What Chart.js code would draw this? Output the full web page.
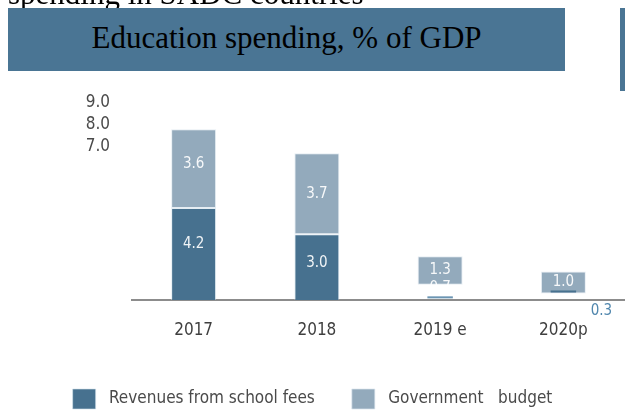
<!DOCTYPE html>
<html>
<head>
<meta charset="utf-8">
<script src="https://cdn.jsdelivr.net/npm/chart.js@4/dist/chart.umd.min.js"></script>
<style>
  html, body { margin: 0; padding: 0; background: #fff; overflow: hidden; }
  #wrap { position: relative; width: 625px; height: 410px; }
  #graph { position: absolute; left: 0; top: 0; }
  #caption {
    position: absolute; left: 8px; top: -22px;
    font: 31px/31px "Liberation Serif", "Times New Roman", serif; color: #000;
    white-space: nowrap;
  }
  #banner {
    position: absolute; left: 8px; top: 8px; width: 557px; height: 49px;
    padding-top: 14px;
    background: #4a7594; color: #000;
    font: 31px/31px "Liberation Serif", "Times New Roman", serif;
    text-align: center; white-space: nowrap;
  }
  #sidebar {
    position: absolute; left: 620px; top: 8px; width: 5px; height: 83px;
    background: #4a7594;
  }
</style>
</head>
<body>
<div id="wrap">
  <canvas id="graph" width="625" height="410"></canvas>
  <div id="caption">spending in SADC countries</div>
  <div id="banner">Education spending, % of GDP</div>
  <div id="sidebar"></div>
</div>
<script>
// Werte
const categories = ["2017", "2018", "2019 e", "2020p"];
const schoolFees = [4.2, 3.0, 0.7, 0.3];
const govBudget = [3.6, 3.7, 1.3, 1.0];
const yTicks = [7, 8, 9];

const darkBlue = "#47718f";
const lightBlue = "#93aabc";
const narrow = '"DejaVu Sans Condensed", "Liberation Sans Narrow", sans-serif';

// Beschriftung in den Balken, einzelne Labels verschoben
const labelStyle = {
  "0-0": { dy: -10 },
  "0-1": { dy: -4 },
  "1-0": { dy: -5 },
  "0-2": { dy: -4, underline: "#6b95b3" },
  "0-3": { dx: 38, dy: 11, color: "#4f86ad", outside: true },
  "1-3": { underline: darkBlue },
};

const barLabels = {
  id: "barLabels",
  afterDatasetsDraw(chart) {
    const ctx = chart.ctx;
    ctx.save();
    ctx.font = "15px " + narrow;
    ctx.textAlign = "center";
    ctx.textBaseline = "middle";
    chart.data.datasets.forEach((ds, di) => {
      chart.getDatasetMeta(di).data.forEach((bar, i) => {
        const st = labelStyle[di + "-" + i] || {};
        const text = ds.data[i].toFixed(1);
        const x = bar.x + (st.dx || 0);
        let y = (bar.y + bar.base) / 2 + (st.dy || 0);
        if (st.outside) y = bar.base + (st.dy || 0);
        ctx.fillStyle = st.color || "rgba(255,255,255,0.92)";
        ctx.fillText(text, x, y);
        if (st.underline) {
          const w = ctx.measureText(text).width;
          ctx.fillStyle = st.underline;
          ctx.fillRect(x - w / 2 - 2, y + 8, w + 4, 2);
        }
      });
    });
    ctx.restore();
  },
};

new Chart(document.getElementById("graph").getContext("2d"), {
  type: "bar",
  data: {
    labels: categories,
    datasets: [
      {
        label: " Revenues from school fees",
        data: schoolFees,
        // 2019/2020: Gebührenanteil nicht als Fläche
        backgroundColor: [darkBlue, darkBlue, "rgba(0,0,0,0)", "rgba(0,0,0,0)"],
        borderColor: ["rgba(210,225,235,0.6)", "rgba(210,225,235,0.6)", "rgba(0,0,0,0)", "rgba(0,0,0,0)"],
        borderWidth: 1,
        borderSkipped: "bottom",
      },
      {
        label: " Government   budget",
        data: govBudget,
        backgroundColor: lightBlue,
        borderColor: "rgba(220,230,238,0.7)",
        borderWidth: 1,
        borderSkipped: false,
      },
    ],
  },
  plugins: [barLabels],
  options: {
    responsive: false,
    animation: false,
    layout: { padding: { left: 0, top: 103, right: 0, bottom: -9 } },
    datasets: {
      bar: { categoryPercentage: 1, barPercentage: 0.365 },
    },
    plugins: {
      tooltip: { enabled: false },
      legend: {
        position: "bottom",
        labels: {
          boxWidth: 23,
          boxHeight: 20,
          padding: 37,
          color: "#4a4a4a",
          font: { family: narrow, size: 17 },
        },
      },
    },
    scales: {
      x: {
        stacked: true,
        grid: { display: false, drawTicks: false },
        border: { display: true, color: "#8c8c8c", width: 2 },
        ticks: { color: "#3f3f3f", padding: 20, font: { family: narrow, size: 17 } },
        afterFit: (axis) => {
          axis.height = 52;
        },
      },
      y: {
        stacked: true,
        min: 0,
        max: 9,
        grid: { display: false, drawTicks: false },
        border: { display: false },
        afterBuildTicks: (axis) => {
          axis.ticks = yTicks.map((v) => ({ value: v }));
        },
        afterFit: (axis) => {
          axis.width = 132;
        },
        ticks: {
          color: "#4a4a4a",
          padding: 22,
          font: { family: narrow, size: 17 },
          callback: (v) => Number(v).toFixed(1),
        },
      },
    },
  },
});
</script>
</body>
</html>
